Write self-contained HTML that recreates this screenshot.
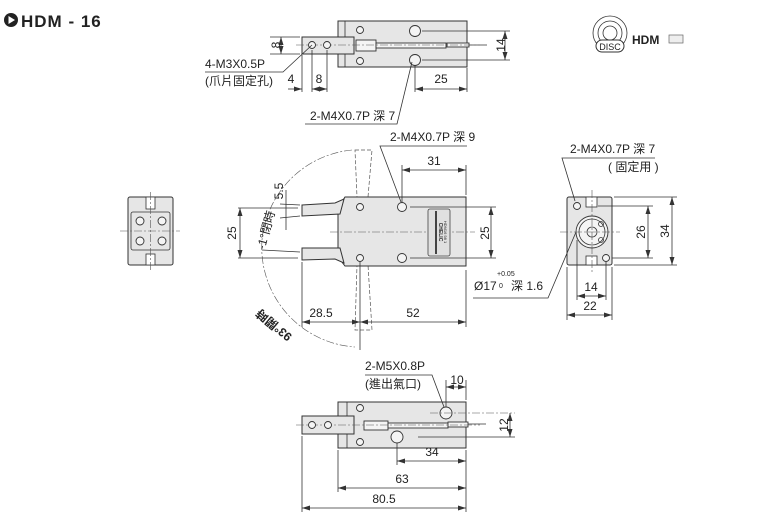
<!DOCTYPE html>
<html><head><meta charset="utf-8"><style>
html,body{margin:0;padding:0;background:#fff}
svg{display:block}
text{font-family:"Liberation Sans","Noto Sans CJK TC",sans-serif;fill:#222}
.l{stroke:#333;stroke-width:0.8;fill:none}
.b{stroke:#333;stroke-width:1;fill:#e6e6e6}
.c{stroke:#555;stroke-width:0.6;fill:none;stroke-dasharray:8 2 2 2}
.d{stroke:#555;stroke-width:0.7;fill:none;stroke-dasharray:4 2}
.h{stroke:#333;stroke-width:0.9;fill:#f4f4f4}
</style></head><body>
<svg width="771" height="518" viewBox="0 0 771 518" xmlns="http://www.w3.org/2000/svg">
<defs><marker id="a" markerWidth="8" markerHeight="6" refX="8" refY="3" orient="auto-start-reverse" markerUnits="userSpaceOnUse"><path d="M0,0.5 L8,3 L0,5.5z" fill="#333"/></marker></defs>

<!-- header -->
<circle cx="11" cy="20" r="7" fill="#222"/><path d="M8.5,16 L15,20 L8.5,24z" fill="#fff"/>
<text x="21" y="27" font-size="17" font-weight="bold" letter-spacing="1">HDM - 16</text>

<!-- logo -->
<g transform="translate(610,33)">
<circle r="17" class="l" stroke-width="1.2"/><circle r="12" class="l" stroke-width="1.2"/><circle r="7" class="l" stroke-width="1.2"/>
<rect x="-14" y="7" width="28" height="12" rx="6" fill="#fff" stroke="#333"/>
<text x="0" y="17" font-size="9" text-anchor="middle">DISC</text>
</g>
<text x="632" y="44" font-size="12" font-weight="bold">HDM</text>
<rect x="669" y="35" width="14" height="8" fill="#eee" stroke="#666" stroke-width="0.7"/>

<!-- TOP VIEW -->
<rect x="338" y="21" width="129" height="46" class="b"/>
<line x1="345" y1="21" x2="345" y2="67" class="l"/>
<rect x="302" y="37" width="52" height="17" class="b"/>
<rect x="356" y="40" width="20" height="11" class="h"/>
<rect x="376" y="43" width="70" height="5" class="h"/>
<rect x="447" y="43" width="22" height="4" class="h"/>
<line x1="469" y1="45" x2="487" y2="45" class="l" stroke-width="2"/>
<line x1="296" y1="45" x2="480" y2="45" class="c"/>
<circle cx="312" cy="45" r="3.5" class="h"/><circle cx="327" cy="45" r="3.5" class="h"/>
<circle cx="360" cy="30" r="3.5" class="h"/><circle cx="360" cy="61" r="3.5" class="h"/>
<circle cx="415" cy="31" r="5.5" class="h"/><circle cx="415" cy="60" r="5.5" class="h"/>
<line x1="422" y1="31" x2="510" y2="31" class="l"/><line x1="422" y1="60" x2="510" y2="60" class="l"/>
<line x1="505" y1="31" x2="505" y2="60" class="l" marker-start="url(#a)" marker-end="url(#a)"/>
<text x="501" y="45" font-size="12" text-anchor="middle" transform="rotate(-90 501 45)" dy="4">14</text>
<line x1="270" y1="37" x2="300" y2="37" class="l"/><line x1="270" y1="54" x2="300" y2="54" class="l"/>
<line x1="281" y1="37" x2="281" y2="54" class="l" marker-start="url(#a)" marker-end="url(#a)"/>
<text x="276" y="45" font-size="12" text-anchor="middle" transform="rotate(-90 276 45)" dy="4">8</text>
<line x1="302" y1="55" x2="302" y2="92" class="l"/><line x1="312" y1="50" x2="312" y2="92" class="l"/><line x1="327" y1="50" x2="327" y2="92" class="l"/>
<line x1="288" y1="89" x2="302" y2="89" class="l" marker-end="url(#a)"/><line x1="312" y1="89" x2="327" y2="89" class="l" marker-start="url(#a)" marker-end="url(#a)"/>
<text x="291" y="83" font-size="12" text-anchor="middle">4</text><text x="319" y="83" font-size="12" text-anchor="middle">8</text>
<line x1="415" y1="66" x2="415" y2="92" class="l"/><line x1="467" y1="68" x2="467" y2="92" class="l"/>
<line x1="415" y1="89" x2="467" y2="89" class="l" marker-start="url(#a)" marker-end="url(#a)"/>
<text x="441" y="83" font-size="12" text-anchor="middle">25</text>
<text x="205" y="68" font-size="12">4-M3X0.5P</text>
<text x="205" y="85" font-size="12">(爪片固定孔)</text>
<polyline points="312,45 283,72 205,72" class="l"/>
<text x="310" y="120" font-size="12">2-M4X0.7P 深 7</text>
<polyline points="305,124 397,124 412,62" class="l"/>

<!-- MIDDLE VIEW -->
<path d="M352,150 A100,100 0 0 0 262,240 A100,100 0 0 0 355,347" class="c" stroke-dasharray="10 3 2 3"/>
<path d="M355,150 L372,150 L368,197 L357,197 Z" class="d"/>
<path d="M357,265 L368,265 L372,330 L355,330 Z" class="d"/>
<polygon points="345,197 466,197 466,266 345,266 338,257 338,208" class="b"/>
<polygon points="302,205 335,203 344,199 340,214 302,216" class="b"/>
<polygon points="302,248 340,248 344,263 335,259 302,260" class="b"/>
<line x1="330" y1="232" x2="475" y2="232" class="c"/>
<circle cx="360" cy="207" r="3.5" class="h"/><circle cx="360" cy="258" r="3.5" class="h"/>
<circle cx="402" cy="207" r="4.5" class="h"/><circle cx="402" cy="258" r="4.5" class="h"/>
<rect x="428" y="209" width="22" height="47" rx="2" fill="#e0e0e0" stroke="#444" stroke-width="0.8"/>
<line x1="436" y1="211" x2="436" y2="254" stroke="#444" stroke-width="2"/>
<text x="439" y="232" font-size="5" text-anchor="middle" transform="rotate(90 439 232)" font-weight="bold">CHELIC</text>
<text x="444" y="232" font-size="4" text-anchor="middle" transform="rotate(90 444 232)">HDM16 98 1</text>
<line x1="238" y1="208" x2="298" y2="208" class="l"/><line x1="238" y1="258" x2="298" y2="258" class="l"/>
<line x1="240" y1="208" x2="240" y2="258" class="l" marker-start="url(#a)" marker-end="url(#a)"/>
<text x="232" y="233" font-size="12" text-anchor="middle" transform="rotate(-90 232 233)" dy="4">25</text>
<line x1="410" y1="207" x2="496" y2="207" class="l"/><line x1="410" y1="258" x2="496" y2="258" class="l"/>
<line x1="491" y1="207" x2="491" y2="258" class="l" marker-start="url(#a)" marker-end="url(#a)"/>
<text x="485" y="233" font-size="12" text-anchor="middle" transform="rotate(-90 485 233)" dy="4">25</text>
<line x1="402" y1="165" x2="402" y2="203" class="l"/><line x1="466" y1="165" x2="466" y2="195" class="l"/>
<line x1="402" y1="170" x2="466" y2="170" class="l" marker-start="url(#a)" marker-end="url(#a)"/>
<text x="434" y="165" font-size="12" text-anchor="middle">31</text>
<text x="390" y="141" font-size="12">2-M4X0.7P 深 9</text>
<polyline points="467,146 380,146 401,202" class="l"/>
<line x1="302" y1="262" x2="302" y2="327" class="l"/><line x1="360" y1="262" x2="360" y2="350" class="l"/><line x1="466" y1="270" x2="466" y2="327" class="l"/>
<line x1="302" y1="322" x2="360" y2="322" class="l" marker-start="url(#a)" marker-end="url(#a)"/>
<line x1="360" y1="322" x2="466" y2="322" class="l" marker-start="url(#a)" marker-end="url(#a)"/>
<text x="321" y="317" font-size="12" text-anchor="middle">28.5</text>
<text x="413" y="317" font-size="12" text-anchor="middle">52</text>
<line x1="280" y1="204" x2="300" y2="205" class="l"/><line x1="280" y1="218" x2="300" y2="216" class="l"/>
<line x1="286" y1="190" x2="286" y2="230" class="l"/>
<text x="279" y="191" font-size="12" text-anchor="middle" transform="rotate(-90 279 191)" dy="4">5.5</text>
<line x1="262" y1="250" x2="300" y2="252" class="l"/>
<text x="266" y="230" font-size="12" text-anchor="middle" transform="rotate(-75 266 230)" dy="4">-1°閉時</text>
<text x="274" y="325" font-size="12" font-weight="bold" text-anchor="middle" transform="rotate(220 274 325)" dy="4">93°開時</text>

<!-- LEFT SMALL VIEW -->
<rect x="128" y="197" width="45" height="68" rx="2" class="b"/>
<rect x="131" y="212" width="39" height="38" rx="2" class="l" fill="#eee"/>
<rect x="146" y="197" width="9" height="12" fill="#fff" stroke="#333" stroke-width="0.8"/>
<rect x="146" y="254" width="9" height="11" fill="#fff" stroke="#333" stroke-width="0.8"/>
<line x1="150.5" y1="192" x2="150.5" y2="270" class="c"/><line x1="120" y1="231" x2="180" y2="231" class="c"/>
<circle cx="140" cy="221" r="4" class="h"/><circle cx="162" cy="221" r="4" class="h"/><circle cx="140" cy="241" r="4" class="h"/><circle cx="162" cy="241" r="4" class="h"/>

<!-- RIGHT VIEW -->
<rect x="567" y="197" width="45" height="68" rx="2" class="b"/>
<rect x="586" y="197" width="11" height="10" fill="#fff" stroke="#333" stroke-width="0.8"/>
<rect x="586" y="256" width="11" height="9" fill="#fff" stroke="#333" stroke-width="0.8"/>
<circle cx="592" cy="232" r="16" class="h"/><circle cx="592" cy="232" r="13" class="l"/><circle cx="592" cy="232" r="5" class="l"/>
<circle cx="601" cy="224" r="2.5" class="l"/><circle cx="601" cy="240" r="2.5" class="l"/>
<circle cx="577" cy="206" r="3.5" class="h"/><circle cx="606" cy="258" r="3.5" class="h"/>
<line x1="560" y1="232" x2="620" y2="232" class="c"/><line x1="592" y1="190" x2="592" y2="272" class="c"/>
<line x1="598" y1="206" x2="653" y2="206" class="l"/><line x1="612" y1="258" x2="653" y2="258" class="l"/>
<line x1="648" y1="206" x2="648" y2="258" class="l" marker-start="url(#a)" marker-end="url(#a)"/>
<text x="641" y="232" font-size="12" text-anchor="middle" transform="rotate(-90 641 232)" dy="4">26</text>
<line x1="614" y1="197" x2="677" y2="197" class="l"/><line x1="614" y1="265" x2="677" y2="265" class="l"/>
<line x1="672" y1="197" x2="672" y2="265" class="l" marker-start="url(#a)" marker-end="url(#a)"/>
<text x="665" y="231" font-size="12" text-anchor="middle" transform="rotate(-90 665 231)" dy="4">34</text>
<line x1="577" y1="240" x2="577" y2="300" class="l"/><line x1="606" y1="262" x2="606" y2="300" class="l"/>
<line x1="577" y1="296" x2="606" y2="296" class="l" marker-start="url(#a)" marker-end="url(#a)"/>
<text x="591" y="291" font-size="12" text-anchor="middle">14</text>
<line x1="567" y1="267" x2="567" y2="320" class="l"/><line x1="612" y1="267" x2="612" y2="320" class="l"/>
<line x1="567" y1="315" x2="612" y2="315" class="l" marker-start="url(#a)" marker-end="url(#a)"/>
<text x="590" y="310" font-size="12" text-anchor="middle">22</text>
<text x="570" y="153" font-size="12">2-M4X0.7P 深 7</text>
<text x="608" y="171" font-size="12">( 固定用 )</text>
<polyline points="655,158 562,158 575,201" class="l"/>
<text x="474" y="290" font-size="12">Ø17</text>
<text x="497" y="276" font-size="7">+0.05</text><text x="499" y="288" font-size="7">0</text>
<text x="511" y="290" font-size="12">深 1.6</text>
<polyline points="473,298 548,298 576,232" class="l"/>

<!-- BOTTOM VIEW -->
<rect x="338" y="402" width="128" height="46" class="b"/>
<line x1="347" y1="402" x2="347" y2="448" class="l"/>
<rect x="302" y="416" width="52" height="18" class="b"/>
<rect x="364" y="421" width="24" height="9" class="h"/>
<rect x="388" y="423" width="60" height="5" class="h"/>
<rect x="448" y="422" width="20" height="5" class="h"/>
<line x1="468" y1="424" x2="486" y2="424" class="l" stroke-width="2"/>
<line x1="296" y1="425" x2="480" y2="425" class="c"/>
<circle cx="312" cy="425" r="3.5" class="h"/><circle cx="328" cy="425" r="3.5" class="h"/>
<circle cx="360" cy="408" r="3.5" class="h"/><circle cx="360" cy="442" r="3.5" class="h"/>
<circle cx="446" cy="413" r="6" class="h"/><circle cx="397" cy="437" r="6" class="h"/>
<line x1="430" y1="413" x2="515" y2="413" class="c"/><line x1="418" y1="437" x2="515" y2="437" class="l"/>
<line x1="510" y1="413" x2="510" y2="437" class="l" marker-start="url(#a)" marker-end="url(#a)"/>
<text x="504" y="425" font-size="12" text-anchor="middle" transform="rotate(-90 504 425)" dy="4">12</text>
<line x1="446" y1="380" x2="446" y2="407" class="l"/><line x1="466" y1="380" x2="466" y2="400" class="l"/>
<line x1="446" y1="387" x2="466" y2="387" class="l" marker-start="url(#a)" marker-end="url(#a)"/>
<text x="457" y="384" font-size="12" text-anchor="middle">10</text>
<text x="365" y="370" font-size="12">2-M5X0.8P</text>
<text x="365" y="388" font-size="12">(進出氣口)</text>
<polyline points="365,375 432,375 444,407" class="l"/>
<line x1="397" y1="443" x2="397" y2="465" class="l"/><line x1="466" y1="450" x2="466" y2="512" class="l"/>
<line x1="397" y1="461" x2="466" y2="461" class="l" marker-start="url(#a)" marker-end="url(#a)"/>
<text x="432" y="456" font-size="12" text-anchor="middle">34</text>
<line x1="338" y1="450" x2="338" y2="492" class="l"/>
<line x1="338" y1="488" x2="466" y2="488" class="l" marker-start="url(#a)" marker-end="url(#a)"/>
<text x="402" y="483" font-size="12" text-anchor="middle">63</text>
<line x1="302" y1="436" x2="302" y2="512" class="l"/>
<line x1="302" y1="508" x2="466" y2="508" class="l" marker-start="url(#a)" marker-end="url(#a)"/>
<text x="384" y="503" font-size="12" text-anchor="middle">80.5</text>
</svg>
</body></html>
